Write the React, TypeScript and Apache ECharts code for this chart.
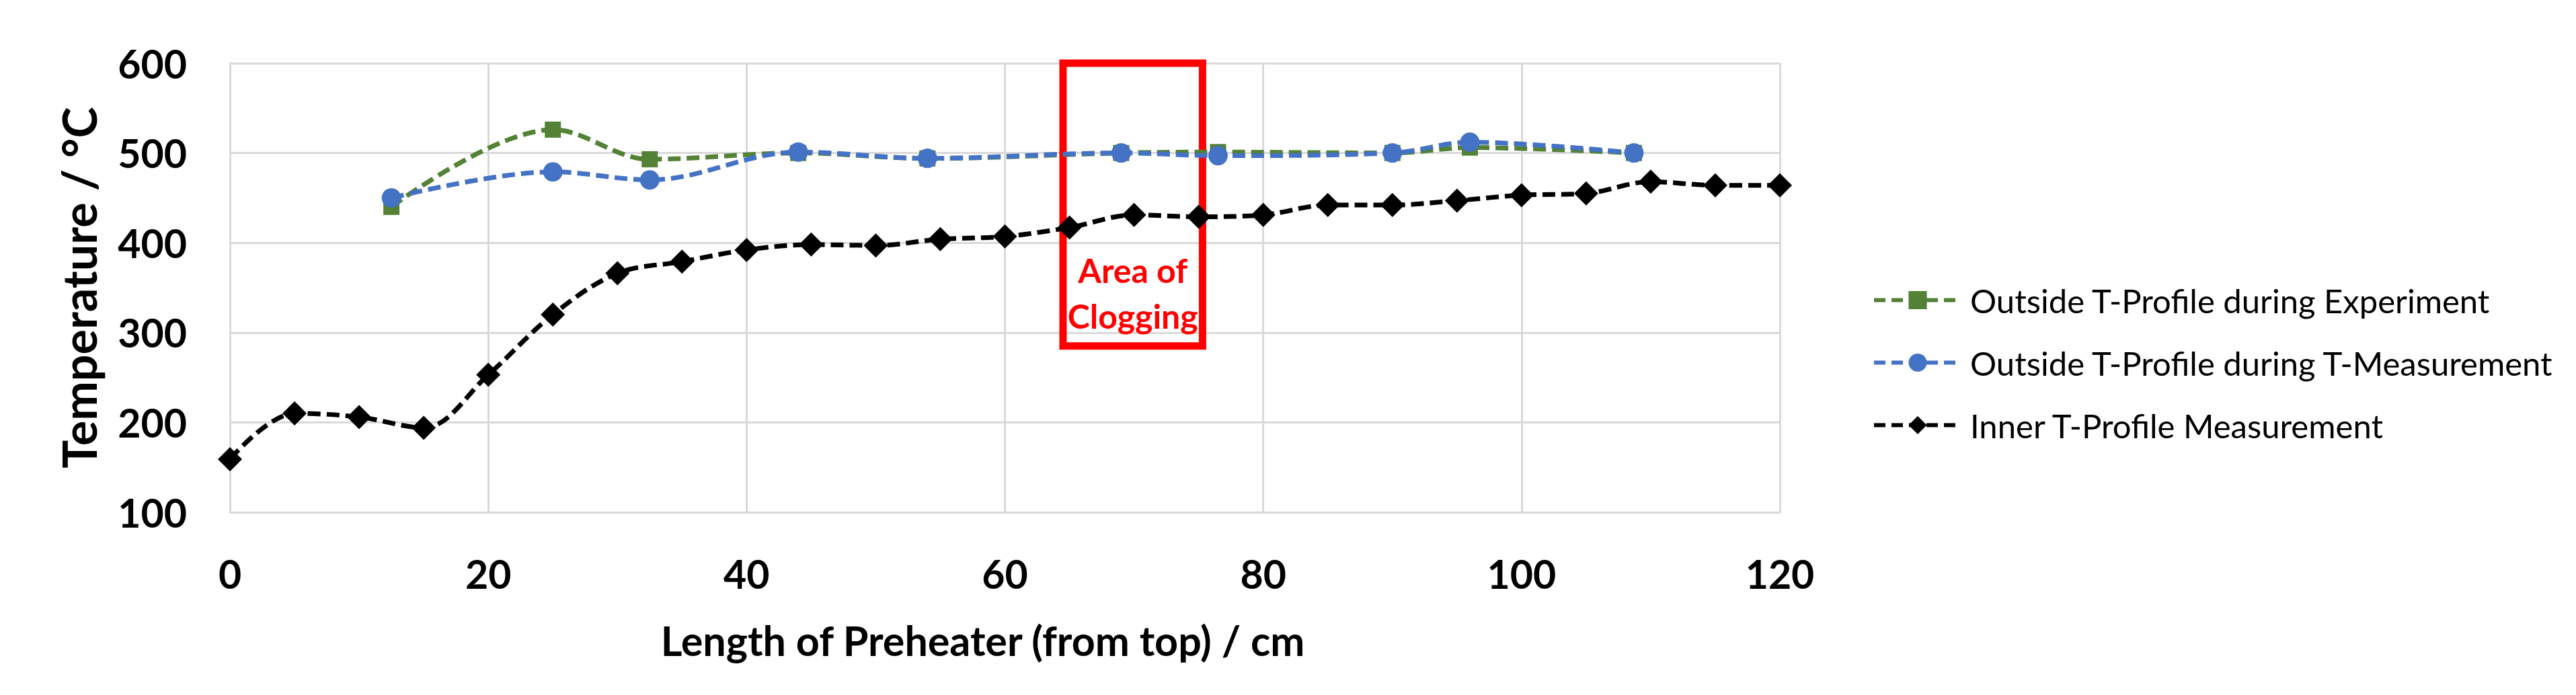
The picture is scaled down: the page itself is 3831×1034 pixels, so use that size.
import React, { useEffect, useRef } from "react";
import * as echarts from "echarts";

// Inner T-profile measurement (x in cm, T in °C)
const innerX = [0, 5, 10, 15, 20, 25, 30, 35, 40, 45, 50, 55, 60, 65, 70, 75, 80, 85, 90, 95, 100, 105, 110, 115, 120];
const innerT = [159, 210, 206, 194, 253, 320, 366, 379, 392, 398, 397, 404, 407, 417, 431, 429, 431, 442, 442, 447, 453, 455, 468, 464, 464];

// Outside T-profiles
const outsideX = [12.5, 25, 32.5, 44, 54, 69, 76.5, 90, 96, 108.7];
const experimentT = [440, 526, 493, 500, 494, 500, 501, 500, 506, 500];
const measurementT = [450, 479, 470, 501, 494, 500, 497, 500, 512, 500];

// Axis settings
const xMin = 0, xMax = 120, xStep = 20;
const yMin = 100, yMax = 600, yStep = 100;

// Clogging annotation (data coords)
const clogX = [64.5, 75.3];
const clogY = [285, 600];
const clogText = "Area of\nClogging";

const seriesNames = [
  "Outside T-Profile during Experiment",
  "Outside T-Profile during T-Measurement",
  "Inner T-Profile Measurement",
];

const pairs = (xs: number[], ys: number[]) => xs.map((x, i) => [x, ys[i]]);

export default function App() {
  const ref = useRef<HTMLDivElement>(null);
  useEffect(() => {
    if (!ref.current) return;
    const chart = echarts.init(ref.current, null, { renderer: "svg" });
    const dash = [19, 9];
    chart.setOption({
      animation: false,
      backgroundColor: "#ffffff",
      grid: { left: 342, right: 1184, top: 94, bottom: 272, containLabel: false },
      xAxis: {
        type: "value",
        min: xMin,
        max: xMax,
        interval: xStep,
        name: "Length of Preheater (from top) / cm",
        nameLocation: "middle",
        nameGap: 160,
        nameTextStyle: {
          fontFamily: "Lato",
          fontWeight: "bold",
          fontSize: 61,
          color: "#000",
          padding: [0, 66, 0, 0],
        },
        axisLine: { show: true, lineStyle: { color: "#d9d9d9", width: 3 } },
        axisTick: { show: false },
        axisLabel: {
          margin: 62,
          fontFamily: "Lato",
          fontWeight: "bold",
          fontSize: 59,
          color: "#000",
        },
        splitLine: { show: true, lineStyle: { color: "#d9d9d9", width: 3 } },
      },
      yAxis: {
        type: "value",
        min: yMin,
        max: yMax,
        interval: yStep,
        name: "Temperature / °C",
        nameLocation: "middle",
        nameGap: 190,
        nameRotate: 90,
        nameTextStyle: {
          fontFamily: "Lato",
          fontWeight: "bold",
          fontSize: 70,
          color: "#000",
        },
        axisLine: { show: true, lineStyle: { color: "#d9d9d9", width: 3 } },
        axisTick: { show: false },
        axisLabel: {
          margin: 64,
          fontFamily: "Lato",
          fontWeight: "bold",
          fontSize: 59,
          color: "#000",
        },
        splitLine: { show: true, lineStyle: { color: "#d9d9d9", width: 3 } },
      },
      legend: {
        orient: "vertical",
        left: 2779,
        top: 417,
        itemWidth: 130,
        itemHeight: 34,
        itemGap: 44,
        lineStyle: { width: 6, type: [17, 9] },
        textStyle: { fontFamily: "Lato", fontSize: 49, color: "#000", lineHeight: 48, padding: [0, 0, 0, 8] },
        data: seriesNames,
      },
      series: [
        {
          name: seriesNames[0],
          type: "line",
          data: pairs(outsideX, experimentT),
          smooth: 0.35,
          symbol: "rect",
          symbolSize: 24,
          itemStyle: { color: "#538135" },
          lineStyle: { color: "#538135", width: 7, type: dash },
        },
        {
          name: seriesNames[1],
          type: "line",
          data: pairs(outsideX, measurementT),
          smooth: 0.35,
          symbol: "circle",
          symbolSize: 29,
          itemStyle: { color: "#4472c4" },
          lineStyle: { color: "#4472c4", width: 7, type: dash },
        },
        {
          name: seriesNames[2],
          type: "line",
          data: pairs(innerX, innerT),
          smooth: 0.35,
          symbol: "diamond",
          symbolSize: 36,
          itemStyle: { color: "#000000" },
          lineStyle: { color: "#000000", width: 7, type: dash },
          markArea: {
            silent: true,
            itemStyle: { color: "rgba(0,0,0,0)", borderColor: "#ff0000", borderWidth: 11 },
            label: {
              show: true,
              position: "insideBottom",
              distance: 16,
              formatter: clogText,
              fontFamily: "Lato",
              fontWeight: "bold",
              fontSize: 50,
              lineHeight: 68,
              color: "#ff0000",
              align: "center",
            },
            data: [[{ coord: [clogX[0], clogY[0]] }, { coord: [clogX[1], clogY[1]] }]],
          },
        },
      ],
    });
    return () => chart.dispose();
  }, []);
  return (
    <div
      ref={ref}
      style={{ position: "absolute", left: 0, top: 0, width: 3831, height: 1034, background: "#fff" }}
    />
  );
}
